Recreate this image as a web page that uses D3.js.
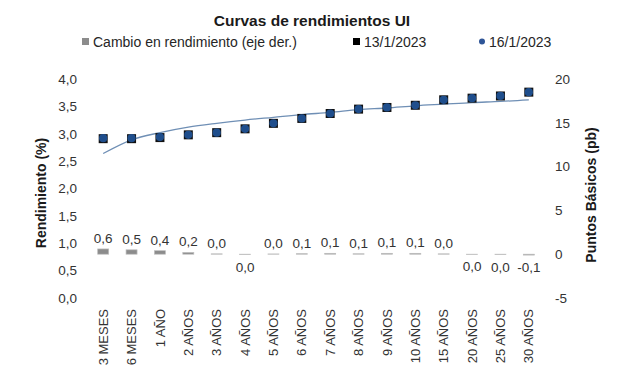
<!DOCTYPE html>
<html>
<head>
<meta charset="utf-8">
<script src="https://cdn.jsdelivr.net/npm/d3@7"></script>
<style>
  html, body { margin: 0; padding: 0; background: #fff; }
  svg { display: block; font-family: "Liberation Sans", Arial, sans-serif; }
</style>
</head>
<body>
<svg id="chart" width="617" height="380"></svg>
<script>
const categorias = ["3 MESES","6 MESES","1 AÑO","2 AÑOS","3 AÑOS","4 AÑOS","5 AÑOS","6 AÑOS","7 AÑOS","8 AÑOS","9 AÑOS","10 AÑOS","15 AÑOS","20 AÑOS","25 AÑOS","30 AÑOS"];
const cambio = [0.6, 0.5, 0.4, 0.2, 0.04, -0.04, 0.03, 0.06, 0.1, 0.05, 0.1, 0.1, 0.04, -0.03, -0.04, -0.1];
const rend13 = [2.91, 2.91, 2.93, 2.98, 3.02, 3.09, 3.19, 3.28, 3.37, 3.45, 3.48, 3.52, 3.62, 3.65, 3.69, 3.76];
const rend16 = [2.92, 2.92, 2.94, 2.98, 3.02, 3.09, 3.19, 3.28, 3.37, 3.45, 3.48, 3.52, 3.62, 3.65, 3.69, 3.76];
const tendencia = [2.64, 2.89, 3.02, 3.12, 3.19, 3.25, 3.30, 3.35, 3.39, 3.44, 3.47, 3.51, 3.54, 3.57, 3.59, 3.62];
const ticksIzq = [0, 0.5, 1, 1.5, 2, 2.5, 3, 3.5, 4];
const ticksDer = [-5, 0, 5, 10, 15, 20];

const svg = d3.select("#chart");
const loc = d3.formatLocale({decimal: ",", thousands: ".", grouping: [3], currency: ["$", ""], minus: "-"});
const f1 = loc.format(".1f");
const f0 = loc.format("d");

const x = d3.scaleBand().domain(categorias).range([89, 543]).paddingInner(0).paddingOuter(0);
const yL = d3.scaleLinear().domain([0, 4]).range([298, 79]);
const yR = d3.scaleLinear().domain([-5, 20]).range([298, 79]);

// Title
svg.append("text").attr("x", 312).attr("y", 26).attr("text-anchor", "middle")
  .attr("font-size", 15.5).attr("font-weight", "bold").attr("fill", "#1a1a1a")
  .text("Curvas de rendimientos UI");

// Legend
const lg = svg.append("g").attr("font-size", 14).attr("fill", "#262626");
lg.append("rect").attr("x", 82).attr("y", 38).attr("width", 7).attr("height", 7).attr("fill", "#8c8c8c");
lg.append("text").attr("x", 93).attr("y", 47).text("Cambio en rendimiento (eje der.)");
lg.append("rect").attr("x", 353).attr("y", 38).attr("width", 7).attr("height", 7).attr("fill", "#000");
lg.append("text").attr("x", 364).attr("y", 47).text("13/1/2023");
lg.append("circle").attr("cx", 482).attr("cy", 41.5).attr("r", 3).attr("fill", "#2f5597");
lg.append("text").attr("x", 489).attr("y", 47).text("16/1/2023");

// Axes
const axL = svg.append("g").attr("transform", "translate(89,0)")
  .call(d3.axisLeft(yL).tickValues(ticksIzq).tickFormat(f1).tickSize(0).tickPadding(12));
const axR = svg.append("g").attr("transform", "translate(543,0)")
  .call(d3.axisRight(yR).tickValues(ticksDer).tickFormat(f0).tickSize(0).tickPadding(12));
const axX = svg.append("g").attr("transform", "translate(0,298)")
  .call(d3.axisBottom(x).tickSize(0));
[axL, axR, axX].forEach(g => {
  g.select(".domain").remove();
  g.selectAll("text").attr("font-size", 13.5).attr("fill", "#333").attr("font-family", "'Liberation Sans', Arial, sans-serif");
});
axX.selectAll("text").attr("font-size", 13)
  .attr("transform", "rotate(-90)").attr("text-anchor", "end")
  .attr("x", -11).attr("y", 0).attr("dy", "0.35em");

// Axis titles
svg.append("text").attr("transform", "translate(46,193) rotate(-90)").attr("text-anchor", "middle")
  .attr("font-size", 14).attr("font-weight", "bold").attr("fill", "#1a1a1a").text("Rendimiento (%)");
svg.append("text").attr("transform", "translate(596,195) rotate(-90)").attr("text-anchor", "middle")
  .attr("font-size", 14).attr("font-weight", "bold").attr("fill", "#1a1a1a").text("Puntos Básicos (pb)");

// Bars (right axis)
const bw = 11;
svg.append("g").selectAll("rect").data(cambio).join("rect")
  .attr("x", (d, i) => x(categorias[i]) + x.bandwidth() / 2 - bw / 2)
  .attr("width", bw)
  .attr("y", d => Math.min(yR(d), yR(0)))
  .attr("height", d => Math.abs(yR(d) - yR(0)))
  .attr("fill", "#8c8c8c")
  .attr("stroke", "#bdbdbd").attr("stroke-width", 0.7);

// Bar labels
svg.append("g").selectAll("text").data(cambio).join("text")
  .attr("x", (d, i) => x(categorias[i]) + x.bandwidth() / 2)
  .attr("y", d => d >= 0 ? yR(d) - 6 : yR(d) + 17)
  .attr("text-anchor", "middle").attr("font-size", 13.5).attr("fill", "#333")
  .text(d => f1(d));

// Trend line
const line = d3.line().x((d, i) => x(categorias[i]) + x.bandwidth() / 2).y(d => yL(d)).curve(d3.curveMonotoneX);
svg.append("path").datum(tendencia).attr("d", line).attr("fill", "none")
  .attr("stroke", "#6f8fb5").attr("stroke-width", 1.3);

// Markers 13/1/2023 (black squares)
const ms = 9;
svg.append("g").selectAll("rect").data(rend13).join("rect")
  .attr("x", (d, i) => x(categorias[i]) + x.bandwidth() / 2 - ms / 2)
  .attr("y", d => yL(d) - ms / 2)
  .attr("width", ms).attr("height", ms).attr("fill", "#111");

// Markers 16/1/2023 (blue circles)
svg.append("g").selectAll("circle").data(rend16).join("circle")
  .attr("cx", (d, i) => x(categorias[i]) + x.bandwidth() / 2)
  .attr("cy", d => yL(d))
  .attr("r", 4.1).attr("fill", "#1f4e8c");
</script>
</body>
</html>
